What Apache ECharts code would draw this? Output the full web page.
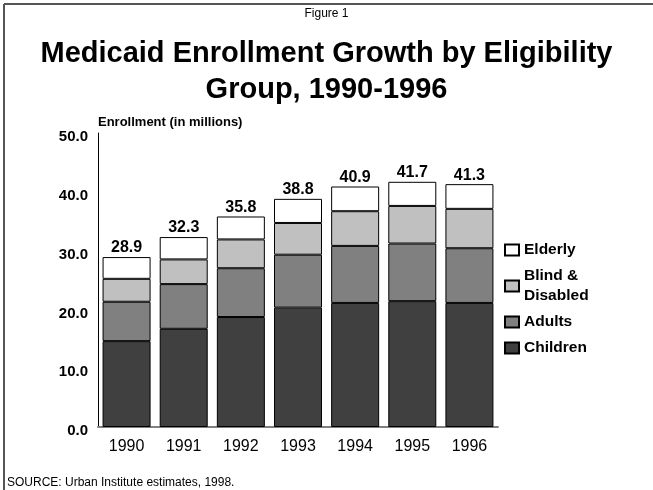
<!DOCTYPE html>
<html>
<head>
<meta charset="utf-8">
<script src="https://cdn.jsdelivr.net/npm/echarts@6/dist/echarts.min.js"></script>
<style>
  html, body { margin: 0; padding: 0; background: #fff; }
  #chart { width: 653px; height: 490px; }
</style>
</head>
<body>
<div id="chart"></div>
<script>
// Medicaid enrollment by eligibility group, millions
const years = ['1990', '1991', '1992', '1993', '1994', '1995', '1996'];
const children = [14.6, 16.7, 18.7, 20.3, 21.1, 21.4, 21.1];
const adults   = [6.7, 7.6, 8.3, 9.0, 9.7, 9.8, 9.3];
const blindDisabled = [3.9, 4.2, 4.9, 5.4, 5.9, 6.4, 6.7];
const elderly  = [3.7, 3.8, 3.9, 4.1, 4.2, 4.1, 4.2];
const yTicks = [0, 10, 20, 30, 40, 50];

// total enrollment per year, shown above each stack
const totals = years.map((_, i) => children[i] + adults[i] + blindDisabled[i] + elderly[i]);

const FONT = '"Liberation Sans", Arial, sans-serif';
const chart = echarts.init(document.getElementById('chart'), null, { renderer: 'canvas' });

function seg(name, data, color, withLabel) {
  const s = {
    name: name,
    type: 'bar',
    stack: 'total',
    data: data,
    barCategoryGap: '16%',
    itemStyle: { color: color, borderColor: '#000', borderWidth: 1 },
    emphasis: { disabled: true }
  };
  if (withLabel) {
    s.label = {
      show: true,
      position: 'top',
      distance: 1,
      fontFamily: FONT,
      fontWeight: 'bold',
      fontSize: 16,
      color: '#000',
      formatter: p => totals[p.dataIndex].toFixed(1)
    };
  }
  return s;
}

chart.setOption({
  backgroundColor: '#fff',
  animation: false,
  title: [
    {
      text: 'Figure 1',
      left: 'center',
      top: 8,
      padding: 0,
      textStyle: { fontFamily: FONT, fontSize: 12, fontWeight: 'normal', color: '#000' }
    },
    {
      text: 'Medicaid Enrollment Growth by Eligibility\nGroup, 1990-1996',
      left: 'center',
      top: 36,
      padding: 0,
      textStyle: { fontFamily: FONT, fontSize: 29, fontWeight: 'bold', color: '#000', lineHeight: 36, align: 'center' }
    },
    {
      text: 'SOURCE: Urban Institute estimates, 1998.',
      left: 7,
      top: 477,
      padding: 0,
      textStyle: { fontFamily: FONT, fontSize: 12, fontWeight: 'normal', color: '#000' }
    }
  ],
  grid: { left: 98, right: 155, top: 133, bottom: 63 },
  legend: {
    orient: 'vertical',
    left: 504,
    top: 240,
    padding: 0,
    icon: 'rect',
    itemWidth: 14,
    itemHeight: 11,
    itemGap: 6,
    selectedMode: false,
    data: ['Elderly', 'Blind & Disabled', 'Adults', 'Children'],
    formatter: n => n === 'Blind & Disabled' ? 'Blind &\nDisabled' : n,
    textStyle: { fontFamily: FONT, fontSize: 15.5, fontWeight: 'bold', color: '#000', lineHeight: 20 }
  },
  xAxis: {
    type: 'category',
    data: years,
    axisLine: { show: true, lineStyle: { color: '#808080', width: 2 } },
    axisTick: { show: false },
    axisLabel: { fontFamily: FONT, fontSize: 16, color: '#000', margin: 12 }
  },
  yAxis: {
    type: 'value',
    min: yTicks[0],
    max: yTicks[yTicks.length - 1],
    interval: yTicks[1] - yTicks[0],
    name: 'Enrollment (in millions)',
    nameLocation: 'end',
    nameGap: 4,
    nameTextStyle: { fontFamily: FONT, fontSize: 13, fontWeight: 'bold', color: '#000', align: 'left', verticalAlign: 'bottom' },
    axisLine: { show: true, lineStyle: { color: '#000', width: 1 } },
    axisTick: { show: false },
    splitLine: { show: false },
    axisLabel: {
      fontFamily: FONT, fontSize: 15, fontWeight: 'bold', color: '#000', margin: 10,
      verticalAlign: 'top',
      lineHeight: 8,
      formatter: v => v.toFixed(1)
    }
  },
  series: [
    seg('Children', children, '#404040', false),
    seg('Adults', adults, '#808080', false),
    seg('Blind & Disabled', blindDisabled, '#c0c0c0', false),
    seg('Elderly', elderly, '#ffffff', true)
  ],
  graphic: [
    { type: 'line', shape: { x1: 4, y1: 4, x2: 653, y2: 4 }, style: { stroke: '#555', lineWidth: 2 } },
    { type: 'line', shape: { x1: 4, y1: 4, x2: 4, y2: 490 }, style: { stroke: '#555', lineWidth: 2 } }
  ]
});
</script>
</body>
</html>
